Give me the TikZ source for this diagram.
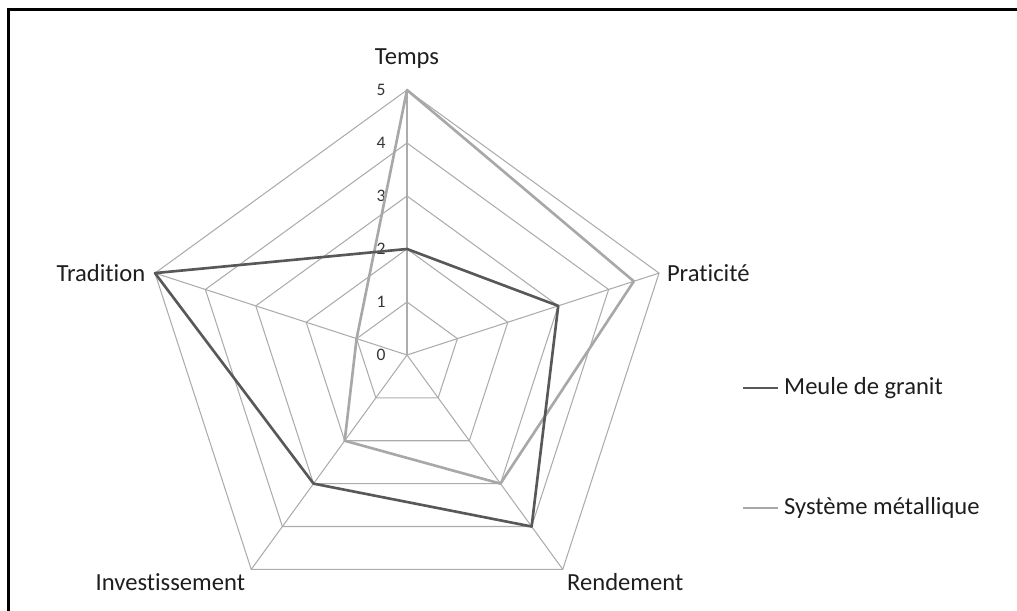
\documentclass[tikz,border=0pt]{standalone}
\usepackage{fontspec}
\setmainfont[Ligatures={NoCommon,NoRequired,NoContextual}]{Carlito}
\usetikzlibrary{positioning}
\definecolor{mgrid}{RGB}{172,172,172}
\definecolor{mdark}{RGB}{88,88,88}
\definecolor{mlight}{RGB}{168,168,168}
\definecolor{mtext}{RGB}{30,30,30}

\begin{document}
\begin{tikzpicture}[x=0.02cm, y=0.02cm, text=mtext,
    font=\fontsize{14}{16}\selectfont]
    \useasboundingbox (0, 0) rectangle (1017, 611);
    \draw [line width=1.2pt] (8.5, 0) -- (8.5, 601.5) -- (1017, 601.5);

    \begin{scope}[shift={(407, 256)}]
    \foreach \r in {1,...,5}
      \draw [mgrid, line width=0.6pt] (90:53*\r) -- (18:53*\r) -- (-54:53*\r) -- (-126:53*\r) -- (162:53*\r) -- cycle;

    \coordinate (centre) at (0, 0);
    \coordinate (temps) at (90:265);
    \coordinate (prat) at (18:265);
    \coordinate (rend) at (-54:265);
    \coordinate (invest) at (-126:265);
    \coordinate (trad) at (162:265);

    \draw [mgrid, line width=0.6pt] (centre) -- (temps);
    \draw [mgrid, line width=0.6pt] (centre) -- (prat);
    \draw [mgrid, line width=0.6pt] (centre) -- (rend);
    \draw [mgrid, line width=0.6pt] (centre) -- (invest);
    \draw [mgrid, line width=0.6pt] (centre) -- (trad);

    \foreach \r in {0,...,5}
      \node (tick\r) [font=\fontsize{10}{11}\selectfont, text=mtext!90] at (-26, 53*\r) {\r};

    \node (ltemps) [above=9pt of temps] {Temps};
    \node (lprat) [right=1pt of prat] {Praticité};
    \node (lrend) [below right=-1pt and -1pt of rend] {Rendement};
    \node (linvest) [below left=-1pt and 0pt of invest] {Investissement};
    \node (ltrad) [left=2pt of trad] {Tradition};

    \draw [mlight, line width=1.5pt, line join=round] (90:5*53) -- (18:4.5*53) -- (-54:3*53) -- (-126:2*53) -- (162:1*53) -- cycle;
    \draw [mdark, line width=1.5pt, line join=round] (90:2*53) -- (18:3*53) -- (-54:4*53) -- (-126:3*53) -- (162:5*53) -- cycle;
    \end{scope}

    \coordinate (kgranit) at (743, 223);
    \node (granit) [anchor=west] at (778, 223) {Meule de granit};
    \draw [mdark, line width=1.5pt] (kgranit) -- (granit.west);

    \coordinate (kmetal) at (743, 103);
    \node (metal) [anchor=west] at (778, 103) {Système métallique};
    \draw [mlight, line width=1.5pt] (kmetal) -- (metal.west);
  \end{tikzpicture}
\end{document}
